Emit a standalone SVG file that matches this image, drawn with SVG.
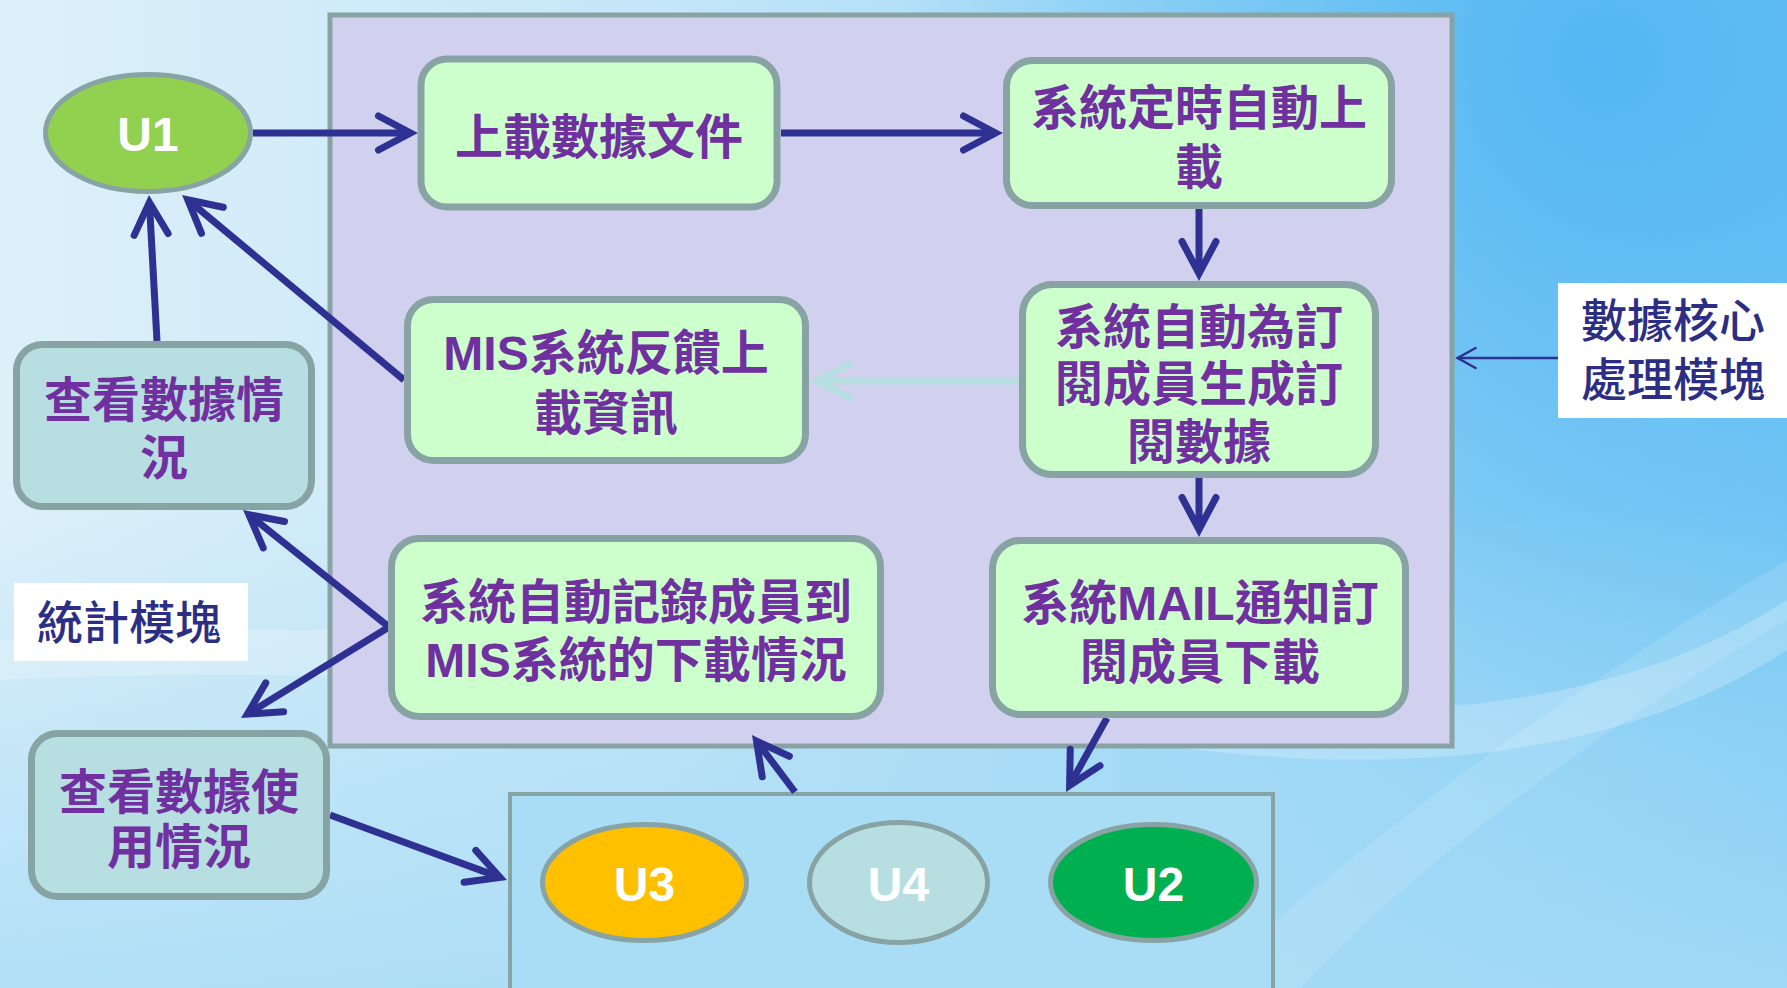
<svg xmlns="http://www.w3.org/2000/svg" width="1787" height="988" viewBox="0 0 1787 988">
<style>
.box{fill:#CCFFCC;stroke:#88A3A3;stroke-width:7}
.tbox{fill:#B7DEE1;stroke:#88A3A3;stroke-width:7}
.ell{stroke:#88A3A3;stroke-width:5}
.t{font-family:"Liberation Sans","Noto Sans CJK TC",sans-serif;font-weight:bold;font-size:48px;fill:#7030A0;text-anchor:middle;dominant-baseline:central}
.u{font-family:"Liberation Sans",sans-serif;font-weight:bold;font-size:48px;fill:#FFFFFF;text-anchor:middle;dominant-baseline:central}
.lbl{font-family:"Liberation Sans","Noto Sans CJK TC",sans-serif;font-weight:500;font-size:46px;fill:#2B2E83;text-anchor:middle;dominant-baseline:central}
.c{fill:none;stroke:#2E3192;stroke-width:7}
</style>
<defs>
<linearGradient id="bgL" x1="0" y1="0" x2="1" y2="0">
<stop offset="0" stop-color="#DDF0F9"/>
<stop offset="0.35" stop-color="#C6E7F8"/>
<stop offset="0.7" stop-color="#9DD7F6"/>
<stop offset="1" stop-color="#7CCAF4"/>
</linearGradient>
<radialGradient id="bgR" cx="1600" cy="60" r="700" gradientUnits="userSpaceOnUse">
<stop offset="0" stop-color="#4DB4F2" stop-opacity="0.9"/>
<stop offset="1" stop-color="#4DB4F2" stop-opacity="0"/>
</radialGradient>
<linearGradient id="bgB" x1="0" y1="0" x2="0" y2="1">
<stop offset="0" stop-color="#A6DBF6" stop-opacity="0"/>
<stop offset="1" stop-color="#A6DBF6" stop-opacity="0.8"/>
</linearGradient>
<marker id="ah" viewBox="-40 -25 50 50" refX="0" refY="0" markerWidth="50" markerHeight="50" markerUnits="userSpaceOnUse" orient="auto">
<path d="M-32,-17 L0,0 L-32,17" fill="none" stroke="#2E3192" stroke-width="7" stroke-linecap="round" stroke-linejoin="miter"/>
</marker>
<marker id="ahl" viewBox="-40 -25 50 50" refX="0" refY="0" markerWidth="50" markerHeight="50" markerUnits="userSpaceOnUse" orient="auto">
<path d="M-32,-17 L0,0 L-32,17" fill="none" stroke="#B7DEE1" stroke-width="7" stroke-linecap="round" stroke-linejoin="miter"/>
</marker>
<marker id="aht" viewBox="-25 -15 30 30" refX="0" refY="0" markerWidth="30" markerHeight="30" markerUnits="userSpaceOnUse" orient="auto">
<path d="M-18,-10 L0,0 L-18,10" fill="none" stroke="#2E3192" stroke-width="2.5" stroke-linecap="round" stroke-linejoin="miter"/>
</marker>
</defs>

<g id="background">
<rect x="0" y="0" width="1787" height="988" fill="url(#bgL)"/>
<rect x="0" y="0" width="1787" height="988" fill="url(#bgR)"/>
<rect x="0" y="500" width="1787" height="488" fill="url(#bgB)"/>
<path d="M0,640 C400,610 800,650 1200,700 C1450,730 1650,690 1787,600 L1787,650 C1650,740 1450,780 1200,750 C800,700 400,660 0,680 Z" fill="#FFFFFF" opacity="0.22"/>
<path d="M1200,988 C1350,850 1550,700 1787,560 L1787,620 C1580,740 1400,880 1300,988 Z" fill="#FFFFFF" opacity="0.12"/>
</g>

<g id="core_panel">
<rect x="330" y="15" width="1122" height="731" fill="#D1D1EF" stroke="#88A3A3" stroke-width="5"/>
</g>

<g id="user_group">
<rect x="510" y="794" width="763" height="200" fill="#A9DDF6" stroke="#88A3A3" stroke-width="4"/>
</g>

<g id="connectors">
<path class="c" d="M253,133 L410.5,133" marker-end="url(#ah)"/>
<path class="c" d="M781,133 L995.5,133" marker-end="url(#ah)"/>
<path class="c" d="M1199,209 L1199,273.5" marker-end="url(#ah)"/>
<path class="c" d="M1199,478 L1199,529.5" marker-end="url(#ah)"/>
<path class="c" d="M1019,381 L817.5,381" style="stroke:#B7DEE1" marker-end="url(#ahl)"/>
<path class="c" d="M404,380 L187.8,199.8" marker-end="url(#ah)"/>
<path class="c" d="M157,341 L149.4,202.5" marker-end="url(#ah)"/>
<path class="c" d="M389,627 L248.9,514.7" marker-end="url(#ah)"/>
<path class="c" d="M389,627 L247.4,714.1" marker-end="url(#ah)"/>
<path class="c" d="M330,815 L500,877.4" marker-end="url(#ah)"/>
<path class="c" d="M795,792 L756.5,741" marker-end="url(#ah)"/>
<path class="c" d="M1107,718 L1069.6,785.4" marker-end="url(#ah)"/>
<path class="c" d="M1558,358 L1457.6,358" style="stroke-width:2.5" marker-end="url(#aht)"/>
</g>

<g id="U1">
<ellipse class="ell" cx="148" cy="133" rx="102.5" ry="58.5" fill="#92D050"/>
<text class="u" x="148" y="134">U1</text>
</g>

<g id="upload_file">
<rect class="box" x="421" y="59" width="356" height="148" rx="26"/>
<text class="t" x="599" y="137">上載數據文件</text>
</g>

<g id="auto_upload">
<rect class="box" x="1006.5" y="60.5" width="385" height="145" rx="26"/>
<text class="t" x="1199" y="108">系統定時自動上</text>
<text class="t" x="1199" y="167">載</text>
</g>

<g id="gen_data">
<rect class="box" x="1022.5" y="284.5" width="353" height="190" rx="30"/>
<text class="t" x="1199" y="327">系統自動為訂</text>
<text class="t" x="1199" y="384">閱成員生成訂</text>
<text class="t" x="1199" y="442">閱數據</text>
</g>

<g id="mis_feedback">
<rect class="box" x="407.5" y="299.5" width="398" height="161" rx="26"/>
<text class="t" x="606" y="353">MIS系統反饋上</text>
<text class="t" x="606" y="413">載資訊</text>
</g>

<g id="view_data">
<rect class="tbox" x="16.5" y="344.5" width="295" height="162" rx="26"/>
<text class="t" x="164" y="400">查看數據情</text>
<text class="t" x="164" y="458">況</text>
</g>

<g id="record_download">
<rect class="box" x="391.5" y="538.5" width="489" height="178" rx="28"/>
<text class="t" x="636" y="602">系統自動記錄成員到</text>
<text class="t" x="636" y="660">MIS系統的下載情況</text>
</g>

<g id="mail_notify">
<rect class="box" x="992.5" y="540.5" width="413" height="174" rx="28"/>
<text class="t" x="1200" y="603">系統MAIL通知訂</text>
<text class="t" x="1200" y="662">閱成員下載</text>
</g>

<g id="view_usage">
<rect class="tbox" x="31.5" y="733.5" width="295" height="163" rx="26"/>
<text class="t" x="179" y="792">查看數據使</text>
<text class="t" x="179" y="847">用情況</text>
</g>

<g id="U3">
<ellipse class="ell" cx="644.5" cy="882.5" rx="102" ry="58" fill="#FFC000"/>
<text class="u" x="644.5" y="884">U3</text>
</g>

<g id="U4">
<ellipse class="ell" cx="898.5" cy="882.5" rx="89" ry="60" fill="#B7DEE1"/>
<text class="u" x="898.5" y="884">U4</text>
</g>

<g id="U2">
<ellipse class="ell" cx="1153.5" cy="882.5" rx="103" ry="58" fill="#00B050"/>
<text class="u" x="1153.5" y="884">U2</text>
</g>

<g id="label_core">
<rect x="1558" y="283" width="229" height="135" fill="#FFFFFF"/>
<text class="lbl" x="1673" y="321">數據核心</text>
<text class="lbl" x="1673" y="380">處理模塊</text>
</g>

<g id="label_stat">
<rect x="14" y="583" width="234" height="78" fill="#FFFFFF"/>
<text class="lbl" x="129" y="623">統計模塊</text>
</g>
</svg>
